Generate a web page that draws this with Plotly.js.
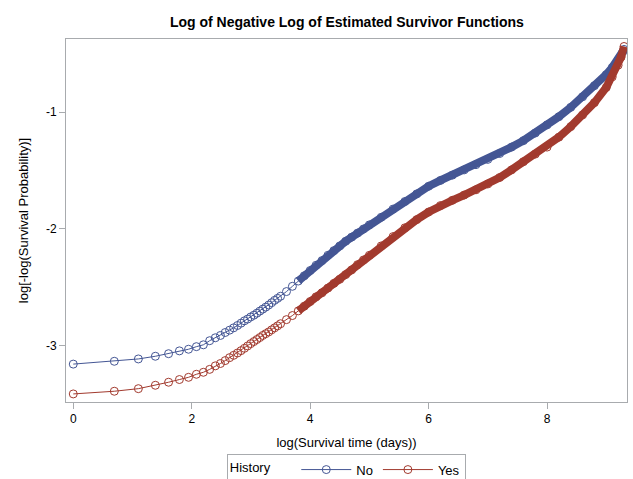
<!DOCTYPE html>
<html>
<head>
<meta charset="utf-8">
<script src="https://cdn.plot.ly/plotly-3.0.1.min.js"></script>
<style>html,body{margin:0;padding:0;background:#fff;}#chart{width:633px;height:479px;}</style>
</head>
<body>
<div id="chart"></div>
<script>
// log(Survival time (days)) values
var logTimeNo = [0, 0.693, 1.099, 1.386, 1.609, 1.792, 1.946, 2.079, 2.197, 2.303, 2.398, 2.485, 2.565, 2.639, 2.708, 2.773, 2.833, 2.890, 2.944, 2.996,
  3.05, 3.1, 3.15, 3.2, 3.25, 3.3, 3.35, 3.4, 3.45, 3.5, 3.6, 3.7, 3.8, 3.9, 4.0, 4.1, 4.2, 4.3, 4.4, 4.5, 4.6, 4.7, 4.8, 4.9, 5.0,
  5.2, 5.4, 5.6, 5.8, 6.0, 6.2, 6.4, 6.6, 6.8, 7.0, 7.2, 7.4, 7.6, 7.8, 8.0, 8.2, 8.4, 8.6, 8.8, 9.0, 9.1, 9.2, 9.28, 9.3];
var logLogNo = [-3.155, -3.131, -3.111, -3.088, -3.066, -3.042, -3.028, -3.006, -2.99, -2.955, -2.93, -2.91, -2.885, -2.865, -2.845, -2.825, -2.805, -2.785, -2.77, -2.752,
  -2.737, -2.72, -2.702, -2.685, -2.668, -2.65, -2.63, -2.61, -2.593, -2.575, -2.535, -2.49, -2.445, -2.4, -2.355, -2.31, -2.27, -2.225, -2.185, -2.145, -2.105, -2.07, -2.035, -2.0, -1.965,
  -1.9, -1.83, -1.765, -1.7, -1.635, -1.585, -1.54, -1.495, -1.45, -1.405, -1.355, -1.3, -1.245, -1.18, -1.11, -1.04, -0.96, -0.87, -0.775, -0.68, -0.62, -0.555, -0.485, -0.465];

var logTimeYes = [0, 0.693, 1.099, 1.386, 1.609, 1.792, 1.946, 2.079, 2.197, 2.303, 2.398, 2.485, 2.565, 2.639, 2.708, 2.773, 2.833, 2.890, 2.944, 2.996,
  3.05, 3.1, 3.15, 3.2, 3.25, 3.3, 3.35, 3.4, 3.45, 3.5, 3.6, 3.7, 3.8, 3.9, 4.0, 4.1, 4.2, 4.3, 4.4, 4.5, 4.6, 4.7, 4.8, 4.9, 5.0,
  5.2, 5.4, 5.6, 5.8, 6.0, 6.2, 6.4, 6.6, 6.8, 7.0, 7.2, 7.4, 7.6, 7.8, 8.0, 8.2, 8.4, 8.6, 8.8, 9.0, 9.1, 9.2, 9.25, 9.3];
var logLogYes = [-3.41, -3.387, -3.365, -3.336, -3.31, -3.287, -3.268, -3.242, -3.225, -3.2, -3.17, -3.15, -3.125, -3.1, -3.08, -3.06, -3.04, -3.02, -3.0, -2.98,
  -2.962, -2.945, -2.928, -2.91, -2.895, -2.88, -2.862, -2.845, -2.828, -2.81, -2.775, -2.74, -2.7, -2.66, -2.62, -2.58, -2.545, -2.505, -2.465, -2.43, -2.39, -2.35, -2.305, -2.265, -2.225,
  -2.145, -2.065, -1.99, -1.92, -1.855, -1.8, -1.755, -1.71, -1.665, -1.615, -1.56, -1.495, -1.425, -1.36, -1.3, -1.215, -1.125, -1.025, -0.92, -0.79, -0.7, -0.6, -0.53, -0.44];

var xTicks = [0, 2, 4, 6, 8];
var yTicks = [-3, -2, -1];
var groupNames = ['No', 'Yes'];

var blue = '#445694';
var red = '#A23A2E';

function denseFrom(xs, ys, start) {
  var ox = [], oy = [];
  for (var i = 0; i < xs.length; i++) { if (xs[i] >= start) { ox.push(xs[i]); oy.push(ys[i]); } }
  return {x: ox, y: oy};
}
var bandNo = denseFrom(logTimeNo, logLogNo, 3.75);
var bandYes = denseFrom(logTimeYes, logLogYes, 3.75);

var traces = [
  {x: bandNo.x, y: bandNo.y, mode: 'lines', line: {color: blue, width: 8}, showlegend: false, hoverinfo: 'skip'},
  {x: logTimeNo, y: logLogNo, name: groupNames[0], mode: 'lines+markers', line: {color: blue, width: 1},
   marker: {symbol: 'circle-open', size: 8, color: blue, line: {width: 1}}},
  {x: bandYes.x, y: bandYes.y, mode: 'lines', line: {color: red, width: 8}, showlegend: false, hoverinfo: 'skip'},
  {x: logTimeYes, y: logLogYes, name: groupNames[1], mode: 'lines+markers', line: {color: red, width: 1},
   marker: {symbol: 'circle-open', size: 8, color: red, line: {width: 1}}}
];

var font = 'Arial, "Liberation Sans", sans-serif';
var layout = {
  width: 633, height: 479,
  paper_bgcolor: '#fff', plot_bgcolor: '#fff',
  margin: {l: 66, r: 6, t: 39, b: 77},
  font: {family: font, size: 12, color: '#000'},
  title: {text: '<b>Log of Negative Log of Estimated Survivor Functions</b>', font: {family: font, size: 14, color: '#000'},
          x: 0.548, xanchor: 'center', y: 0.953, yanchor: 'middle'},
  xaxis: {
    range: [-0.123, 9.35], tickvals: xTicks, ticktext: xTicks.map(String),
    showgrid: false, zeroline: false, showline: true, mirror: true, linecolor: '#a8abae', linewidth: 1,
    ticks: 'outside', ticklen: 6, tickcolor: '#a8abae', tickfont: {size: 12, color: '#000'},
    title: {text: 'log(Survival time (days))', font: {size: 13, color: '#000'}, standoff: 12},
    automargin: false
  },
  yaxis: {
    range: [-3.479, -0.376], tickvals: yTicks, ticktext: yTicks.map(String),
    showgrid: false, zeroline: false, showline: true, mirror: true, linecolor: '#a8abae', linewidth: 1,
    ticks: 'outside', ticklen: 6, tickcolor: '#a8abae', tickfont: {size: 12, color: '#000'},
    title: {text: 'log[-log(Survival Probability)]', font: {size: 13, color: '#000'}, standoff: 14},
    automargin: false
  },
  showlegend: true,
  legend: {
    orientation: 'h', x: 0.547, xref: 'container', xanchor: 'center', y: 0.053, yref: 'container', yanchor: 'top',
    bordercolor: '#a8abae', borderwidth: 1, bgcolor: '#fff',
    font: {size: 13, color: '#000'},
    title: {text: 'History     ', font: {size: 13, color: '#000'}},
    itemwidth: 50, tracegroupgap: 0
  }
};

Plotly.newPlot('chart', traces, layout, {displayModeBar: false, staticPlot: true});
</script>
</body>
</html>
